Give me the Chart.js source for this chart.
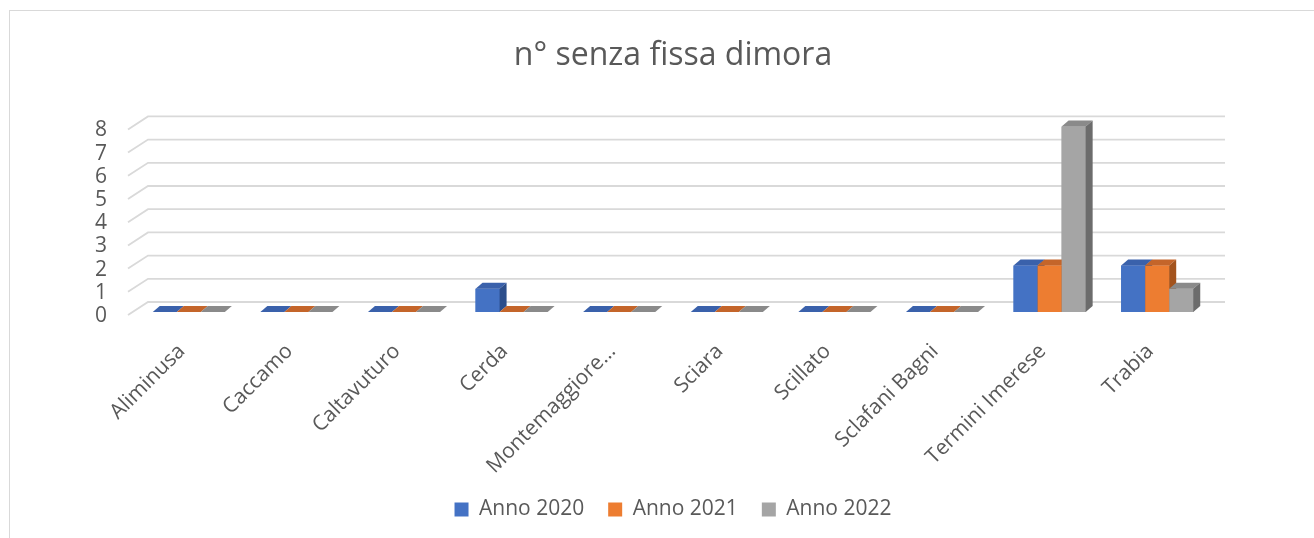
<!DOCTYPE html>
<html>
<head>
<meta charset="utf-8">
<script src="https://cdn.jsdelivr.net/npm/chart.js@4.4.1/dist/chart.umd.min.js"></script>
<style>
  html, body { margin: 0; padding: 0; background: #fff; }
  #c { display: block; }
</style>
</head>
<body>
<canvas id="c" width="1314" height="538"></canvas>
<script>
// ── Data ───────────────────────────────────────────────────────────────────
const categories = ['Aliminusa', 'Caccamo', 'Caltavuturo', 'Cerda', 'Montemaggiore…',
                    'Sciara', 'Scillato', 'Sclafani Bagni', 'Termini Imerese', 'Trabia'];
const anno2020 = [0, 0, 0, 1, 0, 0, 0, 0, 2, 2];
const anno2021 = [0, 0, 0, 0, 0, 0, 0, 0, 2, 2];
const anno2022 = [0, 0, 0, 0, 0, 0, 0, 0, 8, 1];
const seriesNames = ['Anno 2020', 'Anno 2021', 'Anno 2022'];
const yTicks = [0, 1, 2, 3, 4, 5, 6, 7, 8];

// ── Styles ─────────────────────────────────────────────────────────────────
const frontColors = ['#4472c4', '#ed7d31', '#a5a5a5'];
const topColors   = ['#3a61ab', '#c4652a', '#8a8a8a'];
const sideColors  = ['#2c4e8b', '#a3531d', '#6c6c6c'];
const TEXT = '#595959';
const FONT = '"Open Sans", "Liberation Sans", sans-serif';

// bar depth and back-wall offset (pseudo 3D like Excel)
const BAR_DX = 7, BAR_DY = -6;
const WALL_DX = 13, WALL_DY = -10;

// ── 3D plugin: border, slanted gridlines, top/side faces ──────────────────
const depth3d = {
  id: 'depth3d',
  beforeDraw(chart) {
    const ctx = chart.ctx;
    ctx.save();
    ctx.strokeStyle = '#d9d9d9';
    ctx.lineWidth = 1;
    ctx.strokeRect(9.5, 10.5, 1400, 600);
    ctx.restore();
  },
  beforeDatasetsDraw(chart) {
    const { ctx, chartArea, scales } = chart;
    ctx.save();
    ctx.strokeStyle = '#d9d9d9';
    ctx.lineWidth = 1.8;
    yTicks.forEach(v => {
      const yF = scales.y.getPixelForValue(v);
      ctx.beginPath();
      ctx.moveTo(chartArea.left - 7, yF + 3);
      ctx.lineTo(chartArea.left + WALL_DX, yF + WALL_DY);
      ctx.lineTo(chartArea.right + WALL_DX + 1, yF + WALL_DY);
      ctx.stroke();
    });
    ctx.restore();
  },
  afterDatasetsDraw(chart) {
    const ctx = chart.ctx;
    const metas = seriesNames.map((_, i) => chart.getDatasetMeta(i));
    ctx.save();
    // left to right inside each group, so the next front face hides the previous side
    categories.forEach((_, j) => {
      metas.forEach((meta, i) => {
        const bar = meta.data[j];
        const { x, y, base, width } = bar.getProps(['x', 'y', 'base', 'width'], true);
        const l = x - width / 2, r = x + width / 2;
        const top = Math.min(y, base), bot = Math.max(y, base);
        // front face
        ctx.fillStyle = frontColors[i];
        ctx.fillRect(l, top, r - l + 0.5, bot - top);
        // top face
        ctx.fillStyle = topColors[i];
        ctx.beginPath();
        ctx.moveTo(l, top);
        ctx.lineTo(r, top);
        ctx.lineTo(r + BAR_DX, top + BAR_DY);
        ctx.lineTo(l + BAR_DX, top + BAR_DY);
        ctx.closePath();
        ctx.fill();
        // side face
        if (bot - top > 0.5) {
          ctx.fillStyle = sideColors[i];
          ctx.beginPath();
          ctx.moveTo(r, top);
          ctx.lineTo(r + BAR_DX, top + BAR_DY);
          ctx.lineTo(r + BAR_DX, bot + BAR_DY);
          ctx.lineTo(r, bot);
          ctx.closePath();
          ctx.fill();
        }
      });
    });
    ctx.restore();
  }
};

const seriesData = [anno2020, anno2021, anno2022];

new Chart(document.getElementById('c'), {
  type: 'bar',
  data: {
    labels: categories,
    datasets: seriesData.map((d, i) => ({
      label: seriesNames[i],
      data: d,
      backgroundColor: frontColors[i],
      borderWidth: 0,
      categoryPercentage: 0.67,
      barPercentage: 1.0,
    })),
  },
  options: {
    responsive: false,
    animation: false,
    layout: { padding: { left: 10, right: 103, top: 10, bottom: 17 } },
    scales: {
      x: {
        grid: { display: false },
        border: { display: false },
        ticks: {
          autoSkip: false,
          minRotation: 45,
          maxRotation: 45,
          padding: 19,
          labelOffset: -7,
          color: TEXT,
          font: { family: FONT, size: 21 },
        },
        afterFit(scale) { scale.height = 163; },
      },
      y: {
        min: 0,
        max: 8,
        grid: { display: false, drawTicks: false },
        border: { display: false },
        afterBuildTicks(scale) { scale.ticks = yTicks.map(v => ({ value: v })); },
        ticks: {
          autoSkip: false,
          stepSize: 1,
          padding: 28,
          labelOffset: 4,
          color: TEXT,
          font: { family: FONT, size: 21 },
        },
        afterFit(scale) { scale.width = 125; },
      },
    },
    plugins: {
      title: {
        display: true,
        text: 'n° senza fissa dimora',
        fullSize: false,
        color: TEXT,
        font: { family: FONT, size: 32, weight: 'normal' },
        padding: { top: 27, bottom: 51 },
      },
      legend: {
        position: 'bottom',
        fullSize: false,
        maxHeight: 46,
        labels: {
          boxWidth: 14,
          boxHeight: 14,
          padding: 24,
          color: TEXT,
          font: { family: FONT, size: 21 },
        },
      },
      tooltip: { enabled: false },
    },
  },
  plugins: [depth3d],
});
</script>
</body>
</html>
